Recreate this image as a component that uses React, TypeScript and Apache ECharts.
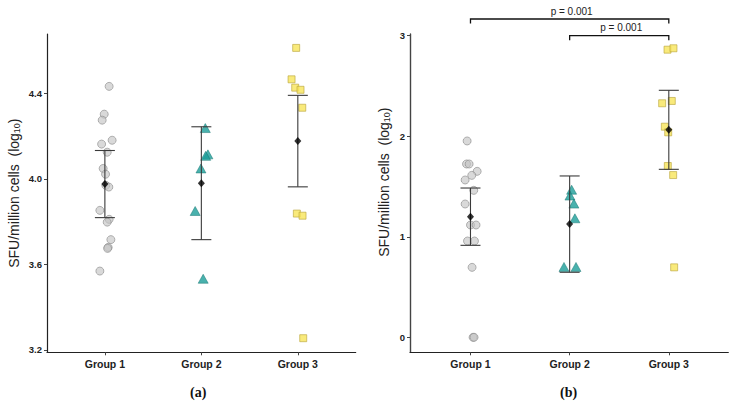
import React, { useEffect, useRef } from "react";
import * as echarts from "echarts";

const groups = ["Group 1", "Group 2", "Group 3"];

// Panel (a) values (log10 SFU/million cells) and horizontal jitter offsets
const aGroup1 = [4.433, 4.303, 4.275, 4.181, 4.163, 4.125, 4.049, 4.022, 3.97, 3.962, 3.853, 3.811, 3.798, 3.716, 3.68, 3.675, 3.569];
const aGroup1Jitter = [0.044, -0.007, -0.028, 0.075, -0.034, 0.024, -0.018, 0.007, 0.01, 0.041, -0.052, 0.044, 0.024, 0.062, 0.034, 0.028, -0.052];
const aGroup2 = [4.238, 4.115, 4.108, 4.049, 3.85, 3.533];
const aGroup2Jitter = [0.041, 0.068, 0.045, -0.004, -0.064, 0.019];
const aGroup3 = [4.613, 4.466, 4.427, 4.417, 4.333, 3.838, 3.828, 3.255];
const aGroup3Jitter = [-0.017, -0.065, -0.027, 0.028, 0.046, -0.01, 0.049, 0.056];
const aMean = [3.976, 3.98, 4.177];
const aLow = [3.819, 3.716, 3.963];
const aHigh = [4.133, 4.244, 4.391];
const aTicks = [3.2, 3.6, 4.0, 4.4];

// Panel (b)
const bGroup1 = [1.953, 1.724, 1.724, 1.651, 1.611, 1.565, 1.462, 1.326, 1.117, 1.117, 0.958, 0.958, 0.696, 0.0, 0.0];
const bGroup1Jitter = [-0.034, -0.04, -0.014, 0.067, 0.013, -0.054, 0.033, -0.054, 0.0, 0.056, -0.03, 0.04, 0.016, 0.026, 0.036];
const bGroup2 = [1.468, 1.41, 1.33, 1.184, 0.7, 0.7];
const bGroup2Jitter = [0.02, 0.003, 0.043, 0.053, -0.057, 0.064];
const bGroup3 = [2.861, 2.875, 2.328, 2.351, 2.095, 2.039, 1.704, 1.614, 0.696];
const bGroup3Jitter = [-0.013, 0.047, -0.067, 0.03, -0.04, -0.006, -0.01, 0.044, 0.054];
const bMean = [1.2, 1.126, 2.064];
const bLow = [0.915, 0.647, 1.671];
const bHigh = [1.485, 1.605, 2.457];
const bTicks = [0, 1, 2, 3];

// Significance brackets in panel (b): [from group, to group, level]
const bracketFrom = [1, 2];
const bracketTo = [3, 3];
const bracketLevel = [3.166, 3.0];
const bracketLabels = ["p = 0.001", "p = 0.001"];

const FONT = "'Liberation Sans', Arial, Helvetica, sans-serif";

const pts = (vals: number[], jit: number[], g: number) => vals.map((v, i) => [g + jit[i], v]);

export default function App() {
  const ref = useRef<HTMLDivElement>(null);

  useEffect(() => {
    if (!ref.current) return;
    const chart = echarts.init(ref.current, null, { renderer: "svg" });

    const circleStyle = { color: "rgba(196,196,196,0.8)", borderColor: "#8a8a8a", borderWidth: 0.8 };
    const triStyle = { color: "#1c9e98", borderColor: "#137470", borderWidth: 0.6 };
    const sqStyle = { color: "#f8e55a", borderColor: "#b9a53c", borderWidth: 0.8 };

    const errRender = (params: any, api: any) => {
      const x = api.value(0);
      const lo = api.coord([x, api.value(1)]);
      const hi = api.coord([x, api.value(2)]);
      const hw = 10;
      const st = { stroke: "#3a3a3a", lineWidth: 1.1 };
      return {
        type: "group",
        children: [
          { type: "line", shape: { x1: lo[0], y1: lo[1], x2: hi[0], y2: hi[1] }, style: st },
          { type: "line", shape: { x1: lo[0] - hw, y1: lo[1], x2: lo[0] + hw, y2: lo[1] }, style: st },
          { type: "line", shape: { x1: hi[0] - hw, y1: hi[1], x2: hi[0] + hw, y2: hi[1] }, style: st },
        ],
      };
    };

    const bracketRender = (params: any, api: any) => {
      const x1 = api.value(0);
      const x2 = api.value(1);
      const y = api.value(2);
      const p1 = api.coord([x1, y]);
      const p2 = api.coord([x2, y]);
      const drop = 4.5;
      return {
        type: "group",
        children: [
          {
            type: "polyline",
            shape: { points: [[p1[0], p1[1] + drop], [p1[0], p1[1]], [p2[0], p2[1]], [p2[0], p2[1] + drop]] },
            style: { stroke: "#111", lineWidth: 1.3, fill: "none" },
          },
          {
            type: "text",
            style: {
              text: bracketLabels[params.dataIndex],
              x: (p1[0] + p2[0]) / 2 + 2,
              y: p1[1] - 3,
              align: "center",
              verticalAlign: "bottom",
              fontSize: 10,
              fontFamily: FONT,
              fill: "#222",
            },
          },
        ],
      };
    };

    const xAxisBase = (gridIndex: number, min: number) => ({
      type: "value",
      gridIndex,
      min,
      max: 3.6,
      splitLine: { show: false },
      axisLine: { show: true, onZero: false, lineStyle: { color: "#222", width: 1.2 } },
      axisTick: { show: true, customValues: [1, 2, 3], length: 3, lineStyle: { color: "#444" } },
      axisLabel: {
        customValues: [1, 2, 3],
        formatter: (v: number) => groups[Math.round(v) - 1] ?? "",
        fontFamily: FONT,
        fontWeight: "bold",
        fontSize: 10.5,
        color: "#222",
        margin: 6,
      },
    });

    const yName = {
      rich: {
        m: { fontFamily: FONT, fontSize: 14, color: "#222" },
        s: { fontFamily: FONT, fontSize: 9, color: "#222", verticalAlign: "bottom", padding: [0, 0, 0, 0] },
      },
    };

    const option: any = {
      animation: false,
      grid: [
        { left: 47, top: 34, width: 308.7, height: 318.3 },
        { left: 410, top: 34, width: 318.3, height: 318.3 },
      ],
      xAxis: [xAxisBase(0, 0.4), xAxisBase(1, 0.39)],
      yAxis: [
        {
          type: "value",
          gridIndex: 0,
          min: 3.189,
          max: 4.678,
          splitLine: { show: false },
          axisLine: { show: true, lineStyle: { color: "#222", width: 1.2 } },
          axisTick: { show: true, customValues: aTicks, length: 3, lineStyle: { color: "#444" } },
          axisLabel: {
            customValues: aTicks,
            formatter: (v: number) => v.toFixed(1),
            fontFamily: FONT,
            fontWeight: "bold",
            fontSize: 9.5,
            color: "#222",
            margin: 5,
          },
          name: "{m|SFU/million cells  (log}{s|10}{m|)}",
          nameLocation: "middle",
          nameGap: 26,
          nameTextStyle: yName,
        },
        {
          type: "value",
          gridIndex: 1,
          min: -0.149,
          max: 3.017,
          splitLine: { show: false },
          axisLine: { show: true, lineStyle: { color: "#444", width: 1.4 } },
          axisTick: { show: true, customValues: bTicks, length: 3, lineStyle: { color: "#444" } },
          axisLabel: {
            customValues: bTicks,
            formatter: (v: number) => String(Math.round(v)),
            fontFamily: FONT,
            fontWeight: "bold",
            fontSize: 9.5,
            color: "#222",
            margin: 5,
          },
          name: "{m|SFU/million cells  (log}{s|10}{m|)}",
          nameLocation: "middle",
          nameGap: 19,
          nameTextStyle: { ...yName, padding: [0, 0, 0, 22] },
        },
      ],
      graphic: [
        { type: "text", left: 190, top: 385, style: { text: "(a)", font: "bold 14px 'Liberation Serif', 'Times New Roman', serif", fill: "#111" } },
        { type: "text", left: 560, top: 385, style: { text: "(b)", font: "bold 14px 'Liberation Serif', 'Times New Roman', serif", fill: "#111" } },
      ],
      series: [
        // panel a
        { type: "scatter", xAxisIndex: 0, yAxisIndex: 0, symbol: "circle", symbolSize: 8, itemStyle: circleStyle, data: pts(aGroup1, aGroup1Jitter, 1) },
        { type: "scatter", xAxisIndex: 0, yAxisIndex: 0, symbol: "triangle", symbolSize: [10, 9], itemStyle: triStyle, data: pts(aGroup2, aGroup2Jitter, 2) },
        { type: "scatter", xAxisIndex: 0, yAxisIndex: 0, symbol: "rect", symbolSize: 7, itemStyle: sqStyle, data: pts(aGroup3, aGroup3Jitter, 3) },
        { type: "custom", xAxisIndex: 0, yAxisIndex: 0, renderItem: errRender, data: aMean.map((_, i) => [i + 1, aLow[i], aHigh[i]]), z: 3 },
        { type: "scatter", xAxisIndex: 0, yAxisIndex: 0, symbol: "diamond", symbolSize: [7, 8], itemStyle: { color: "#000" }, data: aMean.map((m, i) => [i + 1, m]), z: 4 },
        // panel b
        { type: "scatter", xAxisIndex: 1, yAxisIndex: 1, symbol: "circle", symbolSize: 8, itemStyle: circleStyle, data: pts(bGroup1, bGroup1Jitter, 1) },
        { type: "scatter", xAxisIndex: 1, yAxisIndex: 1, symbol: "triangle", symbolSize: [10, 9], itemStyle: triStyle, data: pts(bGroup2, bGroup2Jitter, 2) },
        { type: "scatter", xAxisIndex: 1, yAxisIndex: 1, symbol: "rect", symbolSize: 7, itemStyle: sqStyle, data: pts(bGroup3, bGroup3Jitter, 3) },
        { type: "custom", xAxisIndex: 1, yAxisIndex: 1, renderItem: errRender, data: bMean.map((_, i) => [i + 1, bLow[i], bHigh[i]]), z: 3 },
        { type: "scatter", xAxisIndex: 1, yAxisIndex: 1, symbol: "diamond", symbolSize: [7, 8], itemStyle: { color: "#000" }, data: bMean.map((m, i) => [i + 1, m]), z: 4 },
        {
          type: "custom",
          xAxisIndex: 1,
          yAxisIndex: 1,
          clip: false,
          renderItem: bracketRender,
          data: bracketFrom.map((f, i) => [f, bracketTo[i], bracketLevel[i]]),
          z: 5,
        },
      ],
    };

    chart.setOption(option);
    return () => chart.dispose();
  }, []);

  return <div ref={ref} style={{ position: "absolute", left: 0, top: 0, width: 734, height: 405, background: "#fff" }} />;
}
